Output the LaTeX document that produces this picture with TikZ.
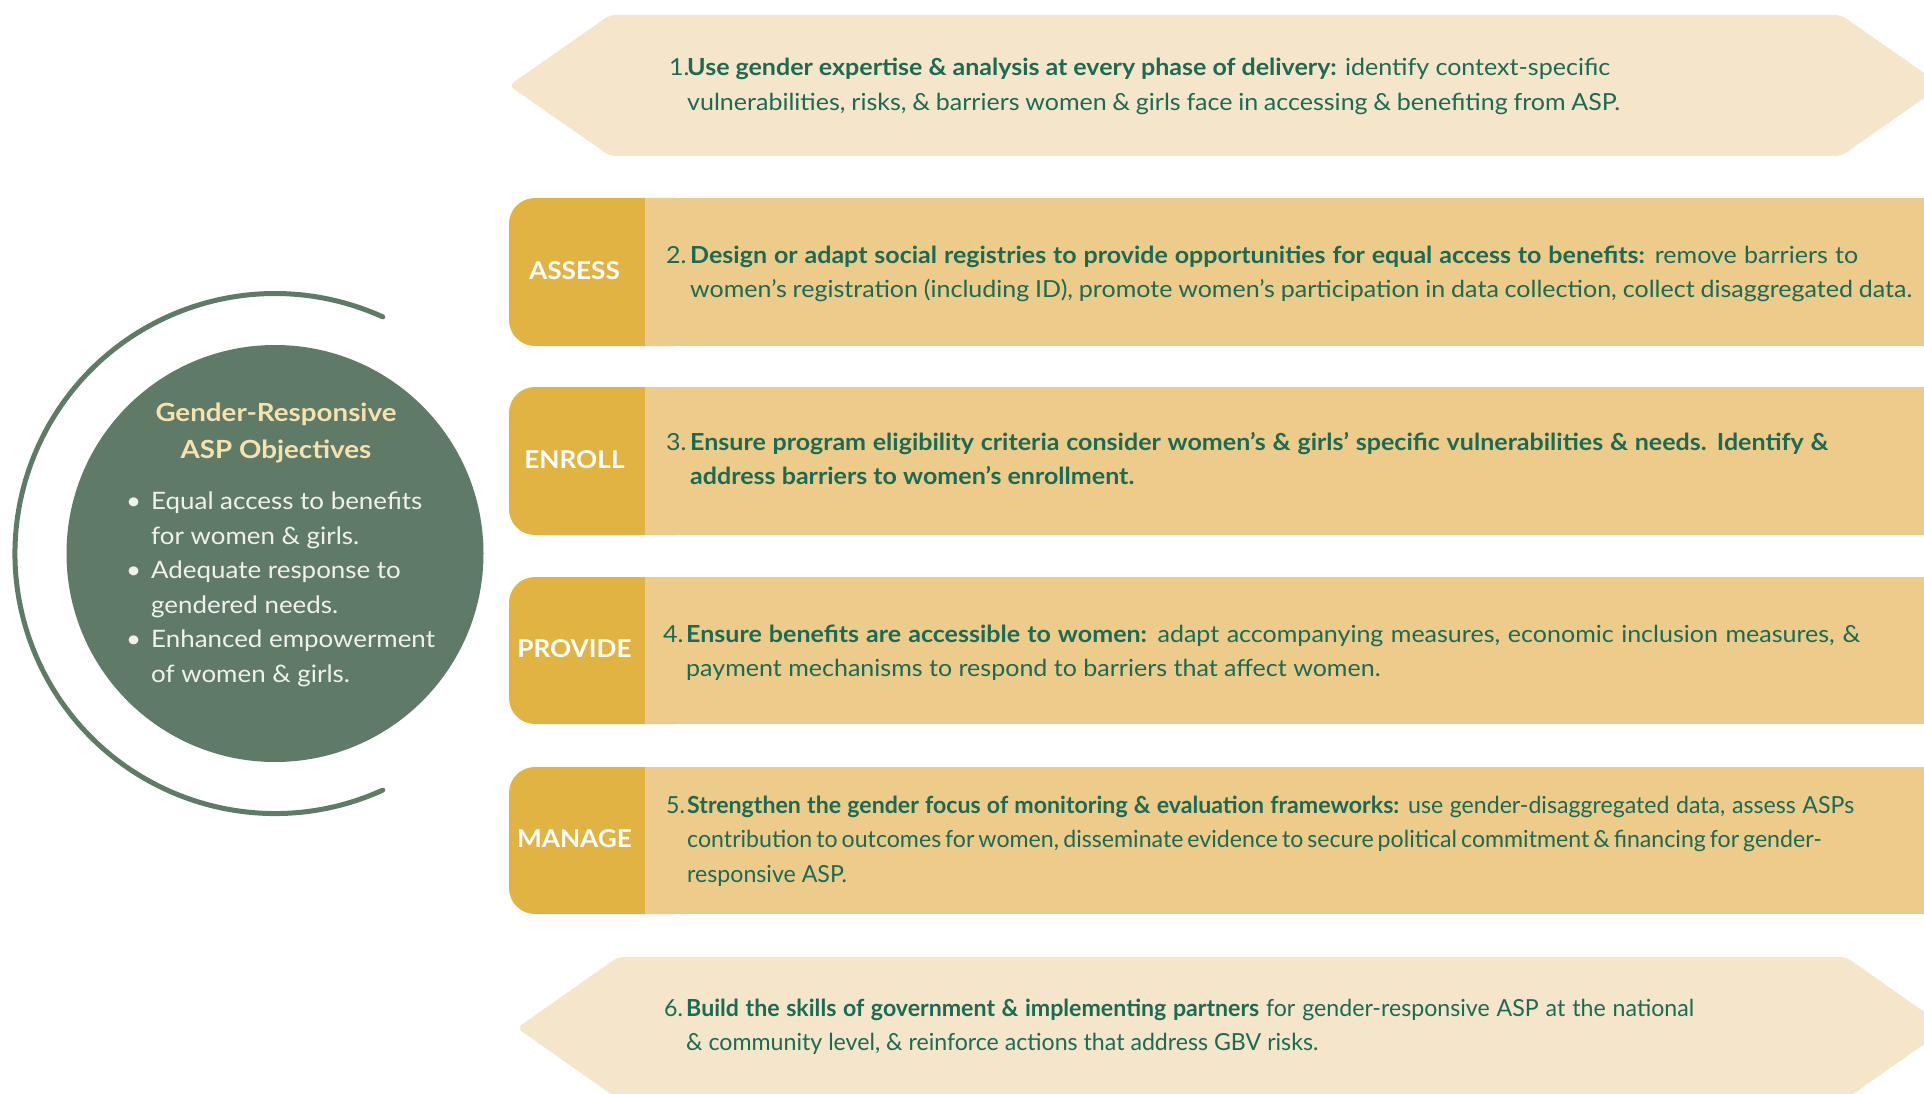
\documentclass[tikz,border=0pt]{standalone}
\usepackage{fontspec}
\setmainfont{Lato}
\newfontfamily\rowfont[FakeStretch=1.065]{Lato}
\newfontfamily\condfont[FakeStretch=0.985]{Lato}
\newfontfamily\labfont[FakeStretch=1.07]{Lato}
\newfontfamily\circfont[FakeStretch=1.08]{Lato}
\newfontfamily\titfont[FakeStretch=1.11]{Lato}
\newcommand{\fitline}[2]{\makebox[#1pt][s]{#2}}
\usetikzlibrary{backgrounds}
\definecolor{hexc}{HTML}{F5E5CA}
\definecolor{boxc}{HTML}{EDCB8B}
\definecolor{labc}{HTML}{E0B343}
\definecolor{greenc}{HTML}{5F7B68}
\definecolor{linec}{HTML}{E0B445}
\definecolor{textc}{HTML}{1D6A53}
\definecolor{titlec}{HTML}{F6E2AE}
\definecolor{bulc}{HTML}{F1F1EC}
\begin{document}
\begin{tikzpicture}[x=1pt,y=-1pt,
  rowtext/.style={anchor=base west, inner sep=0pt, text=textc, font=\rowfont\fontsize{23.5}{34.5}\selectfont},
  condtext/.style={rowtext, font=\condfont\fontsize{23.5}{34.5}\selectfont},
  labtext/.style={text=white, inner sep=0pt, font=\labfont\bfseries\fontsize{24.5}{28}\selectfont},
  connector/.style={draw=linec, line width=4.5pt},
  hexshape/.style={fill=hexc, rounded corners=6pt},
  labshape/.style={fill=labc, rounded corners=26pt},
  bodyshape/.style={fill=boxc},
  ring/.style={draw=greenc, line width=5pt, line cap=round}]
\useasboundingbox (0,0) rectangle (1924,1094);
\clip (0,0) rectangle (1924,1094);
\fill[white] (0,0) rectangle (1924,1094);

% hexagons
\fill[hexshape] (509,85.5) -- (610,15) -- (1841,15) -- (1942,85.5) -- (1841,156) -- (610,156) -- cycle;
\fill[hexshape] (517,1028) -- (618,957) -- (1846,957) -- (1947,1028) -- (1846,1099) -- (618,1099) -- cycle;

% row boxes
\foreach \t/\b in {198/346, 387/535, 577/724, 767/914}{
  \fill[labshape] (509,\t) rectangle (700,\b);
  \fill[bodyshape] (645,\t) rectangle (1940,\b);
}
\coordinate (e2) at (509,239);
\coordinate (e3) at (509,438);
\coordinate (e4) at (509,658);
\coordinate (e5) at (509,876);

% labels
\node[labtext] (l2) at (574.5,270.5) {ASSESS};
\node[labtext] (l3) at (574.5,459.5) {ENROLL};
\node[labtext] (l4) at (574.5,648.5) {PROVIDE};
\node[labtext] (l5) at (574.5,838.5) {MANAGE};

% circle
\node[circle, fill=greenc, minimum size=417pt, inner sep=0pt] (obj) at (275,553.5) {};
\draw[ring] (obj.center) ++(65.5:260) arc[start angle=65.5, end angle=294.5, radius=260];

\begin{scope}[on background layer]
\draw[connector] (obj.61) -- (e2);
\draw[connector] (obj.26) -- (e3);
\draw[connector] (obj.-23) -- (e4);
\draw[connector] (obj.-61.5) -- (e5);
\end{scope}

\node[anchor=base, inner sep=0pt, text=titlec, font=\titfont\bfseries\fontsize{25}{37}\selectfont] (title) at (276,421)
  {\begin{tabular}[t]{@{}c@{}}Gender-Responsive\\ASP Objectives\end{tabular}};
\node[anchor=base west, inner sep=0pt, text=bulc, font=\circfont\fontsize{24}{34.6}\selectfont] (bul) at (126,509.5)
  {\begin{tabular}[t]{@{}l@{}l@{}}\makebox[25pt][l]{\textbullet}&Equal access to benefits\\
   &for women \& girls.\\
   \textbullet&Adequate response to\\
   &gendered needs.\\
   \textbullet&Enhanced empowerment\\
   &of women \& girls.\end{tabular}};

% row 1
\node[rowtext] (n1) at (669,76) {1.};
\node[rowtext] (t1) at (687,76) {\begin{tabular}[t]{@{}l@{}}\fitline{923}{\textbf{Use gender expertise \& analysis at every phase of delivery:} identify context-specific}\\
\fitline{933}{vulnerabilities, risks, \& barriers women \& girls face in accessing \& benefiting from ASP.}\end{tabular}};
% row 2
\node[rowtext] (n2) at (666,263) {2.};
\node[rowtext] (t2) at (690,263) {\begin{tabular}[t]{@{}l@{}}\fitline{1168}{\textbf{Design or adapt social registries to provide opportunities for equal access to benefits:} remove barriers to}\\
\fitline{1222}{women’s registration (including ID), promote women’s participation in data collection, collect disaggregated data.}\end{tabular}};
% row 3
\node[rowtext] (n3) at (666,450) {3.};
\node[rowtext] (t3) at (690,450) {\begin{tabular}[t]{@{}l@{}}\fitline{1138}{\textbf{Ensure program eligibility criteria consider women’s \& girls’ specific vulnerabilities \& needs. Identify \&}}\\
\textbf{address barriers to women’s enrollment.}\end{tabular}};
% row 4
\node[rowtext] (n4) at (663,642) {4.};
\node[rowtext] (t4) at (686,642) {\begin{tabular}[t]{@{}l@{}}\fitline{1174}{\textbf{Ensure benefits are accessible to women:} adapt accompanying measures, economic inclusion measures, \&}\\
payment mechanisms to respond to barriers that affect women.\end{tabular}};
% row 5
\node[condtext] (n5) at (666,813) {5.};
\node[condtext] (t5) at (687,813) {\begin{tabular}[t]{@{}l@{}}\fitline{1167}{\textbf{Strengthen the gender focus of monitoring \& evaluation frameworks:} use gender-disaggregated data, assess ASPs}\\
\fitline{1133}{contribution to outcomes for women, disseminate evidence to secure political commitment \& financing for gender-}\\
responsive ASP.\end{tabular}};
% row 6
\node[condtext] (n6) at (664,1016) {6.};
\node[condtext] (t6) at (686,1016) {\begin{tabular}[t]{@{}l@{}}\fitline{1008}{\textbf{Build the skills of government \& implementing partners} for gender-responsive ASP at the national}\\
\& community level, \& reinforce actions that address GBV risks.\end{tabular}};
\end{tikzpicture}
\end{document}
